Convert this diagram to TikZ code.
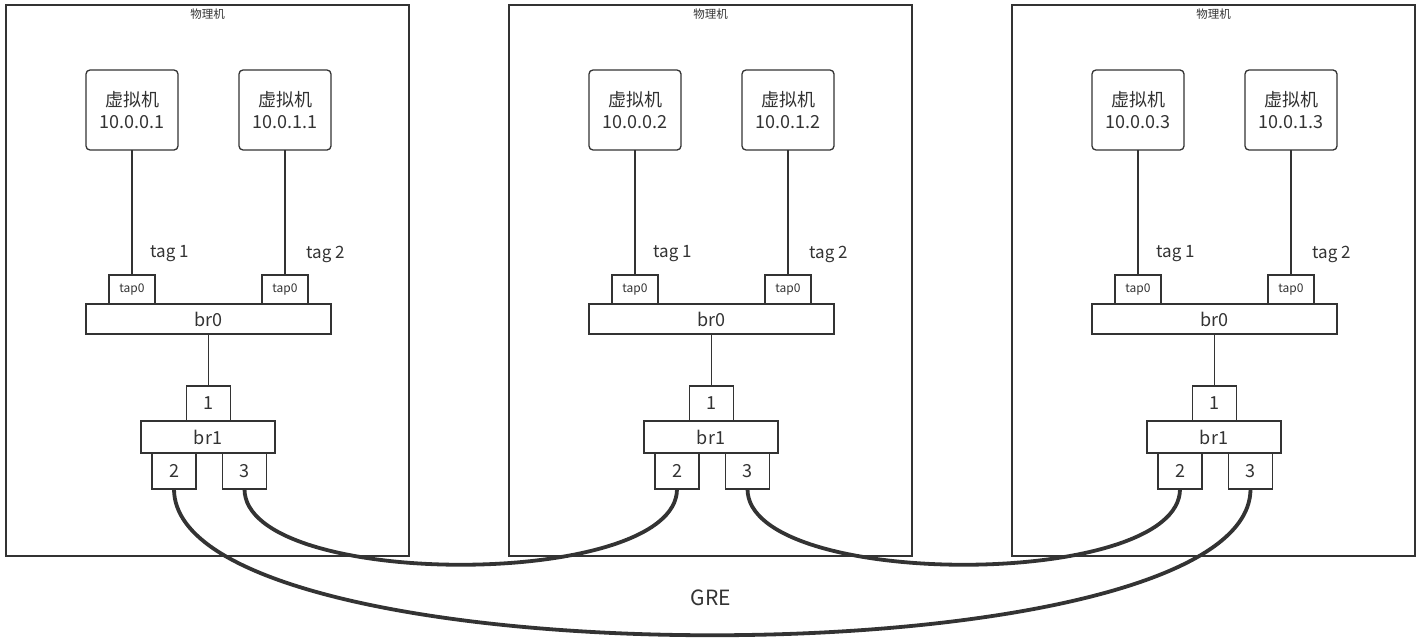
\documentclass[tikz,border=0pt]{standalone}
\usepackage{fontspec}
\setmainfont{Noto Sans CJK SC}
\definecolor{ln}{HTML}{333333}
\begin{document}
\begin{tikzpicture}[x=1pt,y=-1pt,
  box/.style={draw=ln,line width=1.3pt,fill=white,inner sep=0pt,outer sep=0pt,text=ln},
  machine/.style={box,line width=1.5pt,fill=none,minimum width=403pt,minimum height=551pt},
  vm/.style={box,rounded corners=4pt,minimum width=92pt,minimum height=80pt,align=center,font=\fontsize{18}{22}\selectfont},
  tapbox/.style={box,minimum width=46pt,minimum height=29pt,font=\fontsize{12}{14}\selectfont},
  brbox/.style={box,minimum height=30pt,font=\fontsize{18}{20}\selectfont},
  port/.style={box,minimum width=44pt,minimum height=35pt,font=\fontsize{18}{20}\selectfont},
  lbl/.style={text=ln,inner sep=0pt,font=\fontsize{17}{20}\selectfont},
  wire/.style={draw=ln,line width=1.3pt},
  gre/.style={draw=ln,line width=3.8pt}]
\useasboundingbox (0,0) rectangle (1424,640);
\foreach \i/\o in {1/0,2/503,3/1006}{
  \node[machine] (m\i) at (207.5+\o,280.5) {};
  \node[text=ln,inner sep=0pt,font=\fontsize{11.5}{13}\selectfont] (ml\i) at (207.5+\o,14) {物理机};
  \node[vm] (va\i) at (132+\o,110) {虚拟机\\10.0.0.\i};
  \node[vm] (vb\i) at (285+\o,110) {虚拟机\\10.0.1.\i};
  \node[tapbox] (ta\i) at (132+\o,289.5) {tap0};
  \node[tapbox] (tb\i) at (285+\o,289.5) {tap0};
  \node[brbox,minimum width=245pt] (bz\i) at (208.5+\o,319) {br0};
  \node[port] (pa\i) at (208.5+\o,403.5) {1};
  \node[brbox,minimum width=134pt,minimum height=32pt] (bo\i) at (208+\o,437) {br1};
  \node[port,minimum height=36pt] (pb\i) at (174+\o,471) {2};
  \node[port,minimum height=36pt] (pc\i) at (244.5+\o,471) {3};
  \node[lbl,anchor=west] (tg\i) at (150+\o,254) {tag 1};
  \node[lbl,anchor=west] (th\i) at (306+\o,254) {tag 2};
  \draw[wire] (va\i.south) -- (ta\i.north);
  \draw[wire] (vb\i.south) -- (tb\i.north);
  \draw[wire] (bz\i.south) -- (pa\i.north);
}
\draw[gre] (pc1.south) .. controls +(0,101) and +(0,101) .. (pb2.south);
\draw[gre] (pc2.south) .. controls +(0,101) and +(0,101) .. (pb3.south);
\draw[gre] (pb1.south) .. controls +(0,195) and +(0,195) .. (pc3.south);
\node[text=ln,font=\fontsize{21}{24}\selectfont] (gre) at (711,598) {GRE};
\end{tikzpicture}
\end{document}
